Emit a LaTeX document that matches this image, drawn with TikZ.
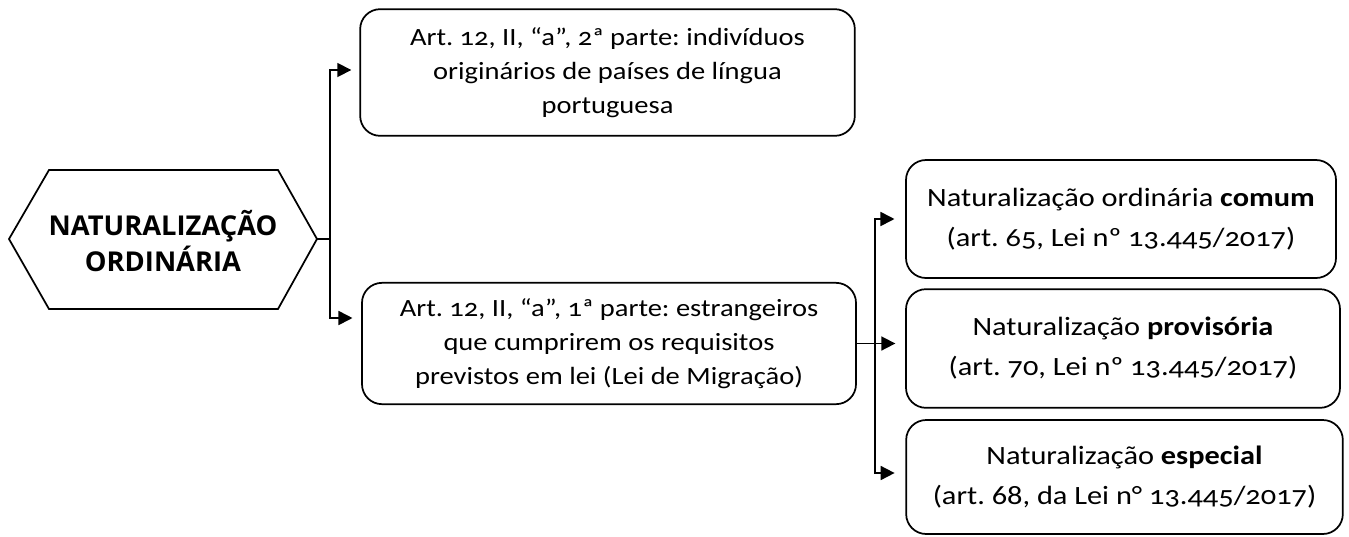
\documentclass[tikz,border=0pt]{standalone}
\usepackage{fontspec}
\setmainfont{Carlito}[Numbers=OldStyle, FakeStretch=1.15]
\newfontfamily\hexfont{Open Sans}
\usetikzlibrary{arrows.meta,calc}
\frenchspacing
\tikzset{
  box/.style={draw, line width=1.3pt, rounded corners=15pt, align=center, inner sep=0pt},
  lbox/.style={box, font=\frenchspacing\fontsize{18.6}{25.5}\selectfont},
  rbox/.style={box, font=\frenchspacing\fontsize{19.8}{30}\selectfont},
  arr/.style={line width=1.3pt, -{Triangle[length=10.5pt,width=10.5pt]}},
  conn/.style={line width=1.3pt}
}
\begin{document}
\begin{tikzpicture}[x=0.75pt,y=-0.75pt]
\useasboundingbox (0,0) rectangle (1349,536);
% hexagon
\draw[line width=1.3pt] (9,239) -- (49,170) -- (278,170) -- (317,239) -- (278,309) -- (49,309) -- cycle;
\node[align=center, font=\hexfont\bfseries\fontsize{20.5}{27}\selectfont] (hex) at (163,241) {NATURALIZAÇÃO\\ORDINÁRIA};
\coordinate (hexR) at (317,239);
\coordinate (j1) at (330,239);
% boxes
\node[lbox, minimum width=371pt, minimum height=95pt] (top) at (607.5,72.5)
  {Art. 12, II, “a”, 2ª parte: indivíduos\\originários de países de língua\\portuguesa};
\node[lbox, minimum width=370.5pt, minimum height=91pt] (mid) at (609,343.5)
  {Art. 12, II, “a”, 1ª parte: estrangeiros\\que cumprirem os requisitos\\previstos em lei (Lei de Migração)};
\node[rbox, minimum width=322.5pt, minimum height=88.5pt] (b1) at (1121,219)
  {Naturalização ordinária \textbf{comum}\\(art. 65, Lei nº 13.445/2017)};
\node[rbox, minimum width=325.5pt, minimum height=89pt] (b2) at (1123,348.5)
  {Naturalização \textbf{provisória}\\(art. 70, Lei nº 13.445/2017)};
\node[rbox, minimum width=327.5pt, minimum height=85.5pt] (b3) at (1124.5,477)
  {Naturalização \textbf{especial}\\(art. {\addfontfeature{Numbers=Lining}68}, da Lei n° 13.445/2017)};
\coordinate (j2) at (875,343.5);
\coordinate (m2) at (906,343.5);
% connectors
\draw[conn] (hexR) -- (j1);
\draw[arr, shorten >=6pt] (j1) |- ($(top.west)+(0,-2.5)$);
\draw[arr, shorten >=6.5pt] (j1) |- ($(mid.west)+(0,-25.5)$);
\draw[arr, shorten >=8pt] (mid.east) -- (m2);
\draw[arr, shorten >=8pt] (j2) |- (b1.west);
\draw[arr, shorten >=8pt] (j2) |- ($(b3.west)+(0,-4)$);
\end{tikzpicture}
\end{document}
